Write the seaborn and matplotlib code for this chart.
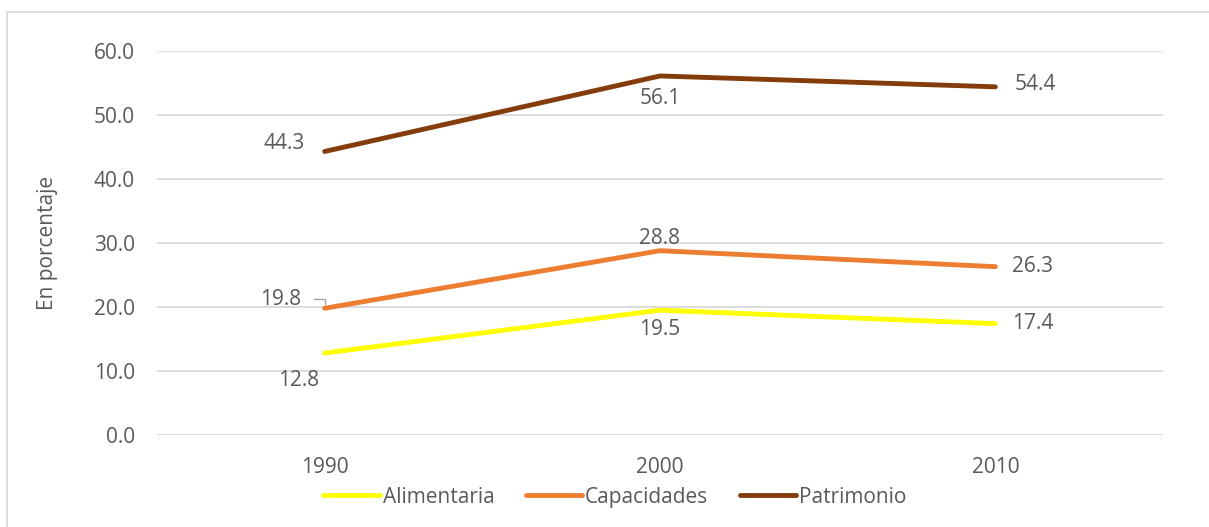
import matplotlib
matplotlib.use("Agg")
import matplotlib.pyplot as plt
import seaborn as sns
import pandas as pd
from matplotlib.patches import Rectangle

years = ["1990", "2000", "2010"]
alimentaria = [12.8, 19.5, 17.4]
capacidades = [19.8, 28.8, 26.3]
patrimonio = [44.3, 56.1, 54.4]
series_names = ["Alimentaria", "Capacidades", "Patrimonio"]
y_ticks = [0, 10, 20, 30, 40, 50, 60]

colors = {"Alimentaria": "#FFFF00", "Capacidades": "#ED7D31", "Patrimonio": "#843C0C"}
text_color = "#595959"
grid_color = "#D9D9D9"
fs = 15

sns.set_theme(style="white")
plt.rcParams["font.family"] = ["Open Sans", "DejaVu Sans"]

df = pd.DataFrame({
    "year": years * 3,
    "value": alimentaria + capacidades + patrimonio,
    "serie": [s for s in series_names for _ in years],
})

fig = plt.figure(figsize=(12.09, 5.27), dpi=100)
ax = fig.add_axes([157 / 1209, 1 - 435 / 527, (1163 - 157) / 1209, (435 - 51) / 527])

sns.lineplot(data=df, x="year", y="value", hue="serie", palette=colors,
             linewidth=3.5, ax=ax, sort=False, legend=True)
for line in ax.lines:
    line.set_solid_capstyle("round")

ax.set_xlim(-0.5, 2.5)
ax.set_ylim(0, 60)
ax.set_yticks(y_ticks)
ax.set_yticklabels([f"{v:.1f}" for v in y_ticks])
ax.yaxis.grid(True, color=grid_color, linewidth=1.3)
ax.set_axisbelow(True)
for s in ax.spines.values():
    s.set_visible(False)
ax.tick_params(axis="both", length=0, labelsize=fs, colors=text_color)
ax.tick_params(axis="y", pad=16)
ax.tick_params(axis="x", pad=16)
ax.set_xlabel("")
ax.set_ylabel("En porcentaje", fontsize=fs, color=text_color, labelpad=26)

# Data labels: (dx, dy in points, ha, va) per point
label_pos = {
    "Patrimonio": [(-14, 6, "right", "center"), (0, -9, "center", "top"), (14, 2, "left", "center")],
    "Capacidades": [(-17, 6, "right", "center"), (0, 1, "center", "bottom"), (12, 0, "left", "center")],
    "Alimentaria": [(-4, -12, "right", "top"), (0, -6, "center", "top"), (12, 0, "left", "center")],
}
values = {"Alimentaria": alimentaria, "Capacidades": capacidades, "Patrimonio": patrimonio}
for name in series_names:
    for i, v in enumerate(values[name]):
        dx, dy, ha, va = label_pos[name][i]
        ax.annotate(f"{v:.1f}", (i, v), xytext=(dx, dy), textcoords="offset points",
                    ha=ha, va=va, fontsize=fs, color=text_color)

# leader line for the 1990 Capacidades label
ax.annotate("", xy=(0, capacidades[0]), xytext=(-0.032, capacidades[0] + 1.5),
            arrowprops=dict(arrowstyle="-", color="#A6A6A6", lw=1,
                            connectionstyle="angle,angleA=0,angleB=90,rad=0",
                            shrinkA=0, shrinkB=3))

leg = ax.legend(loc="upper center", bbox_to_anchor=(615 / 1209, 1 - 468 / 527),
                bbox_transform=fig.transFigure, ncol=3, frameon=False,
                fontsize=fs, handlelength=2.7, handletextpad=0.15, columnspacing=1.5)
for t in leg.get_texts():
    t.set_color(text_color)

fig.patches.append(Rectangle((7 / 1209, -0.1), 1.2, 1 - 12 / 527 + 0.1,
                             transform=fig.transFigure, fill=False,
                             edgecolor="#D9D9D9", linewidth=1.3))

fig.savefig("out.png", dpi=100)
